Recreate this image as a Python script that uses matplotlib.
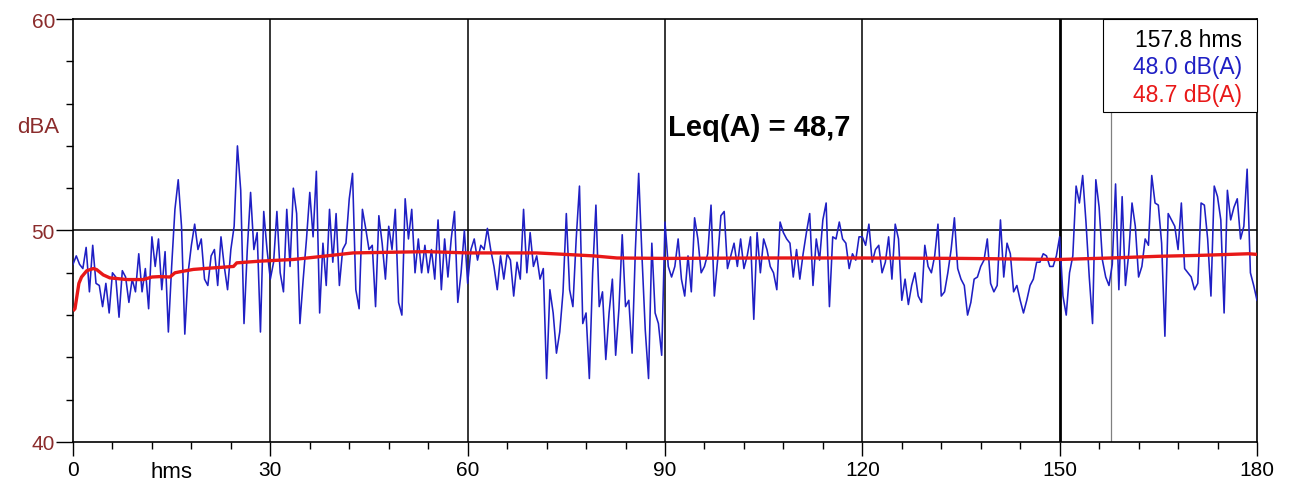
import numpy as np
import matplotlib.pyplot as plt
from matplotlib.patches import Rectangle

plt.rcParams['font.family'] = ['Liberation Sans', 'DejaVu Sans']

# short-term A-weighted level, one sample every 0.5 hms
t_step = 0.5
la_short = [
    48.4, 48.8, 48.4, 48.2, 49.2, 47.1, 49.3, 47.5, 47.4, 46.4,
    47.5, 46.1, 48.0, 47.8, 45.9, 48.1, 47.8, 46.6, 47.7, 47.1,
    48.9, 47.1, 48.2, 46.3, 49.7, 48.3, 49.6, 47.2, 49.0, 45.2,
    48.3, 51.0, 52.4, 50.2, 45.1, 48.0, 49.3, 50.3, 49.1, 49.6,
    47.7, 47.4, 48.8, 49.1, 47.4, 49.7, 48.3, 47.2, 49.1, 50.2,
    54.0, 51.9, 45.6, 49.1, 51.8, 49.1, 49.9, 45.2, 50.9, 49.1,
    # 30
    47.7, 48.5, 50.9, 48.0, 47.1, 51.0, 48.3, 52.0, 50.8, 45.6,
    47.7, 49.6, 51.8, 49.7, 52.8, 46.1, 49.4, 47.4, 51.0, 48.5,
    50.8, 47.4, 49.1, 49.4, 51.5, 52.7, 47.2, 46.3, 51.0, 50.1,
    49.1, 49.3, 46.4, 50.7, 49.4, 47.7, 50.2, 49.1, 51.0, 46.6,
    46.0, 51.5, 49.6, 51.0, 48.0, 49.6, 48.0, 49.3, 48.0, 49.1,
    47.7, 50.5, 47.2, 49.6, 47.8, 49.6, 50.9, 46.6, 48.0, 50.0,
    # 60
    47.5, 49.1, 49.6, 48.6, 49.3, 49.1, 50.1, 49.1, 48.3, 47.2,
    48.8, 47.7, 48.9, 48.6, 46.9, 48.5, 47.7, 51.0, 48.0, 49.9,
    48.3, 48.8, 47.7, 48.2, 43.0, 47.2, 46.1, 44.2, 45.2, 47.1,
    50.8, 47.2, 46.4, 49.6, 52.1, 45.6, 46.1, 43.0, 48.0, 51.2,
    46.4, 47.1, 43.9, 46.1, 47.7, 44.1, 46.3, 49.8, 46.4, 46.7,
    44.2, 49.1, 52.7, 48.8, 45.3, 43.0, 49.4, 46.1, 45.6, 44.1,
    # 90
    50.4, 48.3, 47.8, 48.3, 49.6, 47.7, 46.9, 48.8, 47.1, 50.6,
    49.6, 48.0, 48.3, 48.9, 51.2, 46.9, 48.6, 50.7, 50.9, 48.2,
    48.8, 49.4, 48.3, 49.6, 48.2, 48.8, 49.7, 45.8, 49.9, 48.0,
    49.6, 49.1, 48.3, 48.0, 47.2, 50.4, 49.9, 49.6, 49.4, 47.8,
    49.1, 47.7, 48.9, 49.9, 50.8, 47.4, 49.6, 48.6, 50.5, 51.3,
    46.4, 49.7, 49.6, 50.4, 49.6, 49.4, 48.2, 48.9, 48.6, 49.7,
    # 120
    49.7, 49.3, 50.3, 48.5, 49.1, 49.3, 48.0, 48.5, 49.7, 47.7,
    50.3, 49.6, 46.7, 47.7, 46.5, 47.4, 48.0, 46.9, 46.6, 49.3,
    48.3, 48.0, 48.8, 50.3, 46.9, 47.1, 48.0, 49.1, 50.6, 48.2,
    47.7, 47.4, 46.0, 46.6, 47.7, 47.8, 48.3, 48.6, 49.6, 47.5,
    47.1, 47.4, 50.5, 47.8, 49.4, 48.9, 47.1, 47.4, 46.7, 46.1,
    46.7, 47.4, 47.7, 48.5, 48.5, 48.9, 48.8, 48.3, 48.3, 48.8,
    # 150
    49.7, 46.9, 46.0, 48.0, 48.8, 52.1, 51.3, 52.6, 50.4, 47.8,
    45.6, 52.4, 51.1, 48.6, 47.8, 47.4, 48.4, 52.2, 47.2, 51.6,
    47.4, 48.9, 51.3, 50.2, 47.8, 48.3, 49.6, 49.3, 52.6, 51.3,
    51.2, 49.4, 45.0, 50.8, 50.5, 50.2, 49.1, 51.3, 48.2, 48.0,
    47.8, 47.2, 47.5, 51.3, 51.2, 49.6, 46.9, 52.1, 51.6, 50.5,
    46.1, 51.9, 50.5, 51.1, 51.5, 49.6, 50.2, 52.9, 48.0, 47.4,
    46.7,
]
t = np.arange(len(la_short)) * t_step

# running Leq
leq_t = [0, 0.3, 0.6, 0.9, 1.3, 2.1, 3.1, 3.6, 4.6, 5.6, 8.2, 10.7, 12.0,
         13.2, 14.75, 15.5, 16.3, 18.3, 20.8, 24.4, 24.9, 28.4, 33.5, 38.6,
         42.6, 53.8, 60, 70.5, 79.1, 82.7, 90, 105, 120, 135, 150, 157.8,
         165, 172, 178.7, 180]
leq_v = [46.2, 46.3, 46.9, 47.5, 47.8, 48.1, 48.2, 48.15, 47.9, 47.76,
         47.68, 47.68, 47.8, 47.82, 47.8, 48.0, 48.05, 48.16, 48.22, 48.3,
         48.47, 48.55, 48.63, 48.8, 48.94, 49.0, 48.94, 48.94, 48.8, 48.7,
         48.68, 48.7, 48.7, 48.68, 48.63, 48.7, 48.78, 48.83, 48.9, 48.87]

cursor_t = 157.8
leq_total = 48.7

blue = '#1f1fc4'
red = '#e81818'
dark_red = '#8b2c2c'

fig = plt.figure(figsize=(12.94, 4.89), dpi=100)
ax = fig.add_axes([0.0564, 0.0941, 0.9150, 0.8650])

ax.plot(t, la_short, color=blue, lw=1.15, zorder=3)
ax.plot(leq_t, leq_v, color=red, lw=2.4, zorder=4, solid_capstyle='butt')

for xv in [30, 60, 90, 120]:
    ax.axvline(xv, color='black', lw=1.1, zorder=2)
ax.axvline(150, color='black', lw=2.0, zorder=2)
ax.axhline(50, color='black', lw=1.1, zorder=2)
ax.axvline(cursor_t, color='#808080', lw=0.9, zorder=2)

ax.set_xlim(0, 180)
ax.set_ylim(40, 60)
ax.set_xticks(np.arange(0, 181, 30))
ax.set_xticks(np.arange(0, 181, 6), minor=True)
ax.set_yticks([40, 50, 60])
ax.set_yticks(np.arange(40, 61, 2), minor=True)

ax.tick_params(axis='x', which='major', length=10, width=1, labelsize=15, pad=3)
ax.tick_params(axis='x', which='minor', length=5, width=1)
ax.tick_params(axis='y', which='major', length=12, width=1, labelsize=15,
               pad=1, labelcolor=dark_red)
ax.tick_params(axis='y', which='minor', length=5, width=1)
for sp in ax.spines.values():
    sp.set_linewidth(1.2)

ax.text(15, -0.045, 'hms', transform=ax.get_xaxis_transform(),
        ha='center', va='top', fontsize=16)
ax.text(-0.0296, 54.9, 'dBA', transform=ax.get_yaxis_transform(),
        ha='center', va='center', fontsize=16, color=dark_red)

ax.text(90.5, 54.9, 'Leq(A) = ' + f'{leq_total:.1f}'.replace('.', ','),
        fontsize=21, fontweight='bold', ha='left', va='center', zorder=5)

# cursor readout box
ax.add_patch(Rectangle((156.6, 55.6), 23.4, 4.4, facecolor='white',
                       edgecolor='black', lw=0.8, zorder=6, clip_on=False))
blue_at = np.interp(cursor_t, t, la_short)
red_at = np.interp(cursor_t, leq_t, leq_v)
ax.text(177.7, 59.05, f'{cursor_t:.1f} hms', ha='right', va='center',
        fontsize=16.5, color='black', zorder=7)
ax.text(177.7, 57.75, f'{blue_at:.1f} dB(A)', ha='right', va='center',
        fontsize=16.5, color=blue, zorder=7)
ax.text(177.7, 56.45, f'{red_at:.1f} dB(A)', ha='right', va='center',
        fontsize=16.5, color=red, zorder=7)

fig.savefig('out.png', dpi=100)
